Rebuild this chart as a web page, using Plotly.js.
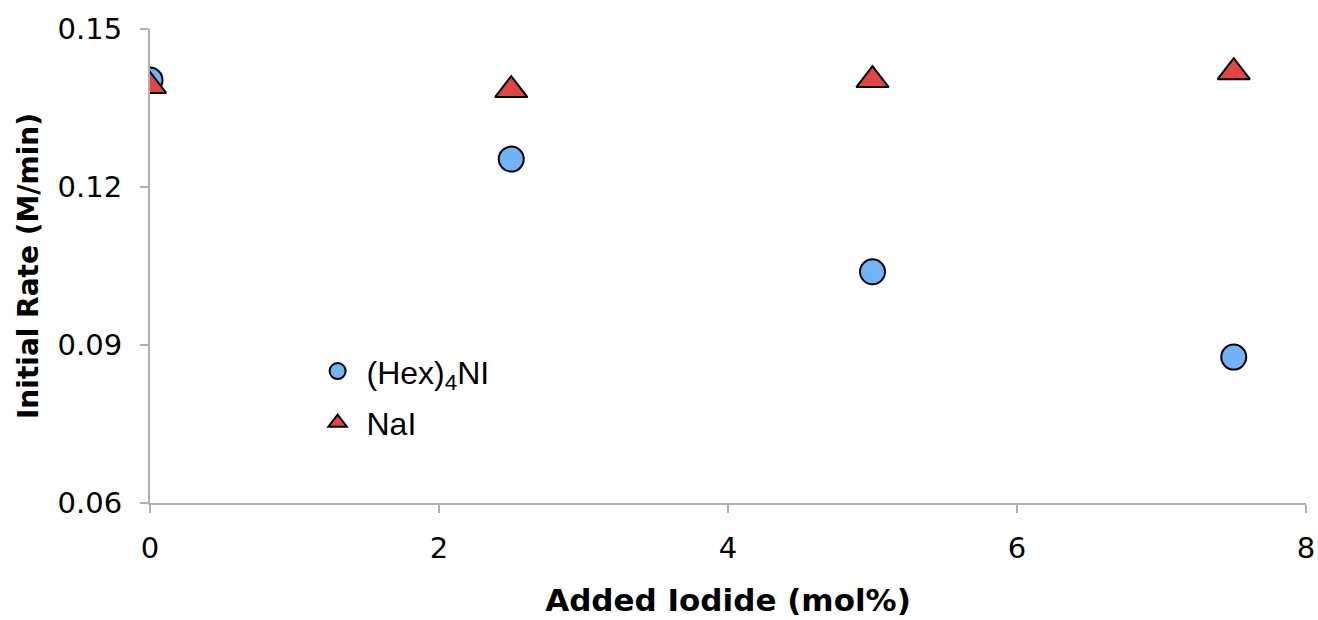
<!DOCTYPE html>
<html>
<head>
<meta charset="utf-8">
<script src="https://cdn.plot.ly/plotly-3.0.1.min.js"></script>
<style>html,body{margin:0;padding:0;background:#fff;}#chart{width:1318px;height:620px;}</style>
</head>
<body>
<div id="chart"></div>
<script>
const iodide = [0, 2.5, 5, 7.5];
const hexRate = [0.1403, 0.1253, 0.1039, 0.0877];
const naiRate = [0.1392, 0.1384, 0.1403, 0.1418];
const xTicks = [0, 2, 4, 6, 8];
const yTicks = [0.06, 0.09, 0.12, 0.15];
const seriesNames = ['\u00a0(Hex)<sub>4</sub>NI', '\u00a0NaI'];

const traces = [
  {x: iodide, y: hexRate, name: seriesNames[0], legendgroup: 'a', type: 'scatter', mode: 'markers',
   marker: {symbol: 'circle', size: 25, color: '#72b2f7', line: {color: '#000', width: 2}}},
  {x: iodide, y: naiRate, name: seriesNames[1], legendgroup: 'b', type: 'scatter', mode: 'markers',
   marker: {symbol: 'triangle-up', size: 28, color: '#e04646', line: {color: '#000', width: 2}}}
];

const layout = {
  width: 1318, height: 620,
  margin: {l: 150, r: 12, t: 29, b: 117},
  paper_bgcolor: '#fff', plot_bgcolor: '#fff',
  showlegend: true,
  legend: {x: 0.145, y: 0.336, xanchor: 'left', yanchor: 'top', bgcolor: 'rgba(0,0,0,0)',
    font: {family: 'Liberation Sans, Arial, sans-serif', size: 32, color: '#000'}, tracegroupgap: 7, itemsizing: 'trace'},
  xaxis: {range: [0, 8], tickvals: xTicks, ticktext: xTicks.map(String), showgrid: false, zeroline: false,
    showline: true, linecolor: '#b0b0b0', linewidth: 2, ticks: 'outside', ticklen: 8, tickwidth: 2, tickcolor: '#b0b0b0',
    ticklabelstandoff: 10,
    tickfont: {family: 'DejaVu Sans, Verdana, sans-serif', size: 29, color: '#000'},
    title: {text: '<b>Added Iodide (mol%)</b>', font: {family: 'DejaVu Sans, Verdana, sans-serif', size: 31, color: '#000'}, standoff: 26}},
  yaxis: {range: [0.06, 0.15], tickvals: yTicks, ticktext: yTicks.map(v => v.toFixed(2)), showgrid: false, zeroline: false,
    showline: true, linecolor: '#b0b0b0', linewidth: 2, ticks: 'outside', ticklen: 8, tickwidth: 2, tickcolor: '#b0b0b0',
    ticklabelstandoff: 12,
    tickfont: {family: 'DejaVu Sans, Verdana, sans-serif', size: 29, color: '#000'},
    title: {text: '<b>Initial Rate (M/min)</b>', font: {family: 'DejaVu Sans, Verdana, sans-serif', size: 28, color: '#000'}, standoff: 11}}
};

Plotly.newPlot('chart', traces, layout, {displayModeBar: false, staticPlot: true});
</script>
</body>
</html>
